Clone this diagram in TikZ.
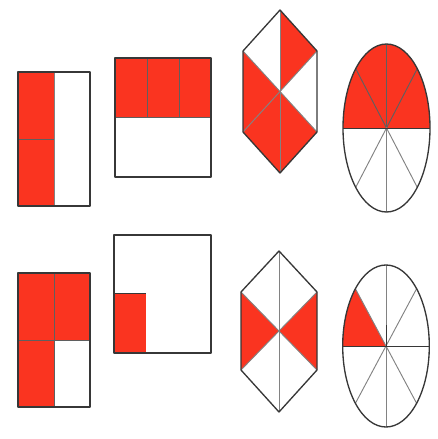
\documentclass[tikz,border=0pt]{standalone}
\usetikzlibrary{calc}

\definecolor{partred}{RGB}{250,52,32}
\definecolor{edgegray}{RGB}{55,55,55}
\definecolor{linegray}{RGB}{130,130,130}

\tikzset{every picture/.style={line width=0.75pt}}
\tikzset{
  shaded/.style={fill=partred, draw=none},
  outline/.style={draw=edgegray, line width=1pt, line join=round},
  divider/.style={draw=linegray, line width=0.7pt},
  darkdivider/.style={draw=edgegray!80, line width=0.7pt},
}

\begin{document}
\begin{tikzpicture}[x=0.75pt,y=0.75pt,yscale=-1,xscale=1]
\useasboundingbox (0,0) rectangle (437,439);

%Shape: Rectangle, two columns by two rows, left column shaded
\fill [shaded] (18,72) rectangle (54,206);
\draw [divider] (54,72) -- (54,206);
\draw [darkdivider] (18,139) -- (54,139);
\draw [outline] (18,72) rectangle (90,206);

%Shape: Rectangle, three columns by two rows, top row shaded
\fill [shaded] (115,58) rectangle (211,117);
\draw [darkdivider] (147,58) -- (147,117);
\draw [darkdivider] (179,58) -- (179,117);
\draw [darkdivider] (115,117) -- (211,117);
\draw [outline] (115,58) rectangle (211,177);

%Shape: Hexagon, six triangles, four shaded
\coordinate (ht) at (280,10);
\coordinate (hul) at (243,51);
\coordinate (hur) at (317,51);
\coordinate (hc) at (280,91.5);
\coordinate (hll) at (243,132);
\coordinate (hlr) at (317,132);
\coordinate (hb) at (280,173);
\fill [shaded] (ht) -- (hur) -- (hc) -- cycle;
\fill [shaded] (hul) -- (hc) -- (hll) -- cycle;
\fill [shaded] (hll) -- (hc) -- (hlr) -- (hb) -- cycle;
\draw [divider] (ht) -- (hb);
\draw [divider] (hul) -- (hlr);
\draw [divider] (hur) -- (hll);
\draw [outline] (ht) -- (hur) -- (hlr) -- (hb) -- (hll) -- (hul) -- cycle;

%Shape: Ellipse, eight sectors, top half shaded
\coordinate (ec) at (386.5,128);
\fill [shaded] (343,128) arc [start angle=180, end angle=360, x radius=43.5, y radius=84] -- cycle;
\draw [darkdivider] (386.5,44) -- (ec);
\draw [darkdivider] (355.7,68.6) -- (ec) -- (417.3,68.6);
\draw [divider] (ec) -- (386.5,212);
\draw [divider] (355.7,187.4) -- (ec) -- (417.3,187.4);
\draw [edgegray] (343,128) -- (430,128);
\draw [outline] (ec) ellipse [x radius=43.5, y radius=84];

%Shape: Rectangle, two columns by two rows, three cells shaded
\fill [shaded] (18,273) -- (90,273) -- (90,340) -- (54,340) -- (54,407) -- (18,407) -- cycle;
\draw [darkdivider] (54,273) -- (54,407);
\draw [darkdivider] (18,340) -- (90,340);
\draw [outline] (18,273) rectangle (90,407);

%Shape: Square with one small shaded corner
\fill [shaded] (114,293) rectangle (146,353);
\draw [edgegray] (114,293) -- (146,293);
\draw [outline] (114,235) rectangle (211,353);

%Shape: Hexagon, six triangles, side triangles shaded
\coordinate (kt) at (279,251);
\coordinate (kul) at (241,292);
\coordinate (kur) at (317,292);
\coordinate (kc) at (279,331);
\coordinate (kll) at (241,370);
\coordinate (klr) at (317,370);
\coordinate (kb) at (279,412);
\fill [shaded] (kul) -- (kc) -- (kll) -- cycle;
\fill [shaded] (kur) -- (kc) -- (klr) -- cycle;
\draw [divider] (kt) -- (kb);
\draw [divider] (kul) -- (klr);
\draw [divider] (kur) -- (kll);
\draw [outline] (kt) -- (kur) -- (klr) -- (kb) -- (kll) -- (kul) -- cycle;

%Shape: Ellipse, eight sectors, one shaded
\coordinate (fc) at (386,346);
\fill [shaded] (fc) -- (342.7,346) arc [start angle=180, end angle=225, x radius=43.3, y radius=81] -- cycle;
\draw [divider] (386,265) -- (386,427);
\draw [divider] (355.4,288.7) -- (416.6,403.3);
\draw [divider] (416.6,288.7) -- (355.4,403.3);
\draw [edgegray] (342.7,346) -- (429.3,346);
\draw [edgegray] (fc) -- (386,325);
\draw [outline] (fc) ellipse [x radius=43.3, y radius=81];

\end{tikzpicture}
\end{document}
